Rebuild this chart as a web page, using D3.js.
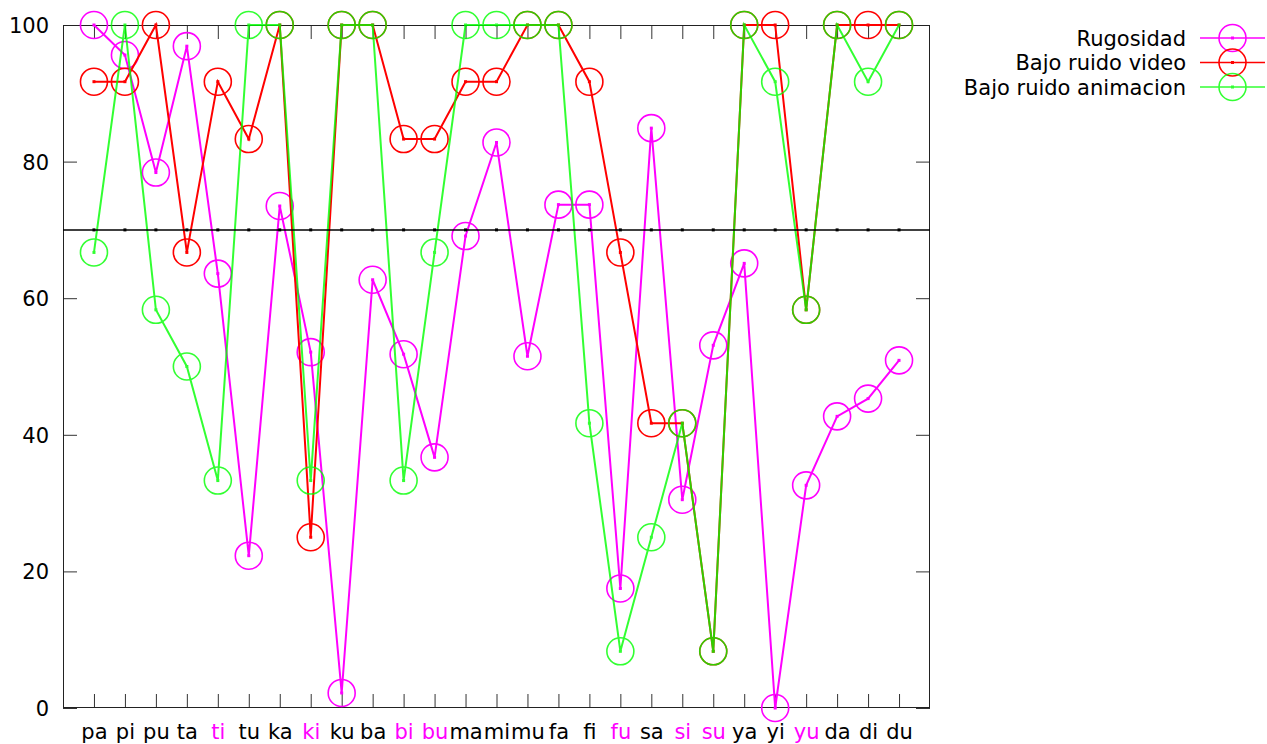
<!DOCTYPE html>
<html>
<head>
<meta charset="utf-8">
<script src="https://cdn.jsdelivr.net/npm/d3@7"></script>
<style>
  html, body { margin: 0; padding: 0; background: #fff; }
  svg { display: block; font-family: "DejaVu Sans", sans-serif; }
</style>
</head>
<body>
<svg id="chart" width="1267" height="744"></svg>
<script>
// Syllables on the x axis
const categories = ["pa","pi","pu","ta","ti","tu","ka","ki","ku","ba","bi","bu","ma","mi","mu",
                    "fa","fi","fu","sa","si","su","ya","yi","yu","da","di","du"];
// Syllables whose tick label is highlighted
const highlighted = ["ti","ki","bi","bu","fu","si","su","yu"];

const rugosidad = [100, 95.6, 78.4, 96.9, 63.6, 22.3, 73.5, 52.1, 2.2, 62.7, 51.8, 36.7, 69.1, 82.8, 51.5,
                   73.7, 73.7, 17.5, 84.9, 30.5, 53.1, 65.1, 0, 32.6, 42.7, 45.3, 50.9];
const bajoRuidoVideo = [91.7, 91.7, 100, 66.7, 91.7, 83.3, 100, 25, 100, 100, 83.3, 83.3, 91.7, 91.7, 100,
                        100, 91.7, 66.7, 41.7, 41.7, 8.3, 100, 100, 58.3, 100, 100, 100];
const bajoRuidoAnimacion = [66.7, 100, 58.3, 50, 33.3, 100, 100, 33.3, 100, 100, 33.3, 66.7, 100, 100, 100,
                            100, 41.7, 8.3, 25, 41.7, 8.3, 100, 91.7, 58.3, 100, 91.7, 100];
const threshold = 70;
const yTicks = [0, 20, 40, 60, 80, 100];

const series = [
  { name: "Rugosidad", values: rugosidad, color: "#ff00ff", opacity: 1 },
  { name: "Bajo ruido video", values: bajoRuidoVideo, color: "#ff0000", opacity: 1 },
  { name: "Bajo ruido animacion", values: bajoRuidoAnimacion, color: "#00ff00", opacity: 0.8 }
];

const svg = d3.select("#chart");
const plot = { left: 63, right: 930, top: 25, bottom: 708 };

const x = d3.scalePoint().domain(categories).range([plot.left, plot.right]).padding(1);
const y = d3.scaleLinear().domain([0, 100]).range([plot.bottom, plot.top]);

const tickLen = 14;
const fontSize = 21;

// Y axis (left, with labels) and its mirror on the right
const yLeft = svg.append("g").attr("transform", `translate(${plot.left},0)`)
  .call(d3.axisLeft(y).tickValues(yTicks).tickSize(-tickLen).tickPadding(14).tickFormat(d3.format("d")));
const yRight = svg.append("g").attr("transform", `translate(${plot.right},0)`)
  .call(d3.axisRight(y).tickValues(yTicks).tickSize(-tickLen).tickFormat(""));

// X axis (bottom, with labels) and its mirror on top
const xBottom = svg.append("g").attr("transform", `translate(0,${plot.bottom})`)
  .call(d3.axisBottom(x).tickSize(-tickLen).tickPadding(18));
const xTop = svg.append("g").attr("transform", `translate(0,${plot.top})`)
  .call(d3.axisTop(x).tickSize(-tickLen).tickFormat(""));

[yLeft, yRight, xBottom, xTop].forEach(g => {
  g.select(".domain").remove();
  g.selectAll(".tick line").attr("stroke", "#333").attr("stroke-width", 1);
  g.selectAll("text").attr("font-size", fontSize).attr("font-family", "DejaVu Sans, sans-serif").attr("fill", "#000");
});
yLeft.selectAll("text").attr("dy", "0.36em");
xBottom.selectAll("text").attr("dy", "0")
  .attr("y", 739 - plot.bottom)
  .attr("fill", d => highlighted.includes(d) ? "#ff00ff" : "#000");

// Plot border
svg.append("rect")
  .attr("x", plot.left + 0.5).attr("y", plot.top + 0.5)
  .attr("width", plot.right - plot.left - 1).attr("height", plot.bottom - plot.top - 1)
  .attr("fill", "none").attr("stroke", "#222").attr("stroke-width", 1);

const r = 13.5;
const line = d3.line().x((d, i) => x(categories[i])).y(d => y(d));

series.forEach(s => {
  const g = svg.append("g").attr("opacity", s.opacity);
  g.append("path").datum(s.values)
    .attr("d", line).attr("fill", "none")
    .attr("stroke", s.color).attr("stroke-width", 2).attr("stroke-linejoin", "miter");
  g.selectAll("circle").data(s.values).join("circle")
    .attr("cx", (d, i) => x(categories[i])).attr("cy", d => y(d)).attr("r", r)
    .attr("fill", "none").attr("stroke", s.color).attr("stroke-width", 1.6);
  g.selectAll("rect").data(s.values).join("rect")
    .attr("x", (d, i) => x(categories[i]) - 1.5).attr("y", d => y(d) - 1.5)
    .attr("width", 3).attr("height", 3).attr("fill", s.color);
});

// Reference line at the threshold, with a small mark at each syllable
svg.append("line")
  .attr("x1", plot.left).attr("x2", plot.right)
  .attr("y1", y(threshold)).attr("y2", y(threshold))
  .attr("stroke", "#000").attr("stroke-width", 1.5);
svg.append("g").selectAll("rect").data(categories).join("rect")
  .attr("x", d => x(d) - 1.5).attr("y", y(threshold) - 1.5)
  .attr("width", 3).attr("height", 3).attr("fill", "#000");

// Legend
const legend = svg.append("g");
const legendTextX = 1186, legendLineX1 = 1200, legendLineX2 = 1265, legendY0 = 38, legendStep = 24.5;
series.forEach((s, i) => {
  const cy = legendY0 + i * legendStep;
  legend.append("text")
    .attr("x", legendTextX).attr("y", cy).attr("dy", "0.36em")
    .attr("text-anchor", "end").attr("font-size", fontSize).attr("fill", "#000")
    .text(s.name);
  const g = legend.append("g").attr("opacity", s.opacity);
  g.append("line").attr("x1", legendLineX1).attr("x2", legendLineX2)
    .attr("y1", cy).attr("y2", cy).attr("stroke", s.color).attr("stroke-width", 1.6);
  const cx = (legendLineX1 + legendLineX2) / 2;
  g.append("circle").attr("cx", cx).attr("cy", cy).attr("r", r)
    .attr("fill", "none").attr("stroke", s.color).attr("stroke-width", 1.6);
  g.append("rect").attr("x", cx - 1.5).attr("y", cy - 1.5).attr("width", 3).attr("height", 3).attr("fill", s.color);
});
</script>
</body>
</html>
